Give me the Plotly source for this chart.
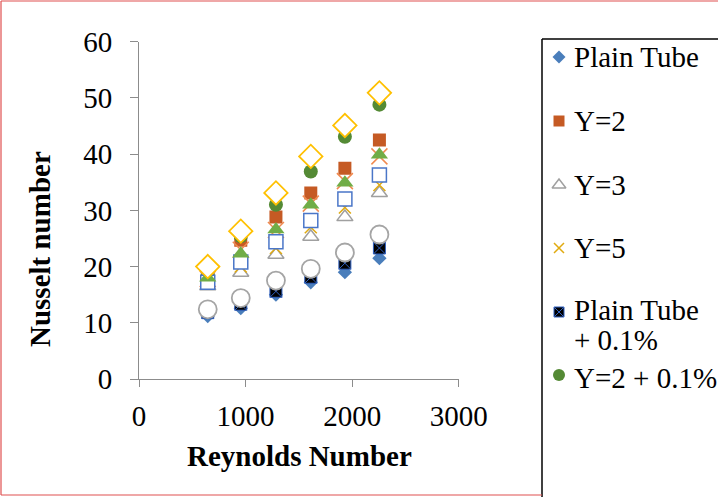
import plotly.graph_objects as go

# ---------------- data ----------------
reynolds = [645, 955, 1285, 1612, 1932, 2256]

plain_tube = [11.2, 12.6, 15.0, 17.2, 19.0, 21.5]
y2 = [18.2, 24.7, 28.8, 33.1, 37.5, 42.5]
y3 = [16.5, 18.9, 22.1, 25.3, 28.8, 33.1]
y5 = [17.0, 20.0, 23.3, 27.0, 30.5, 34.5]
plain_tube_01 = [11.8, 13.3, 15.6, 18.1, 20.6, 23.3]
y2_01 = [18.6, 25.4, 31.0, 36.9, 43.1, 48.8]
y5_01 = [17.8, 23.0, 26.5, 31.2, 35.2, 39.6]
y3_01 = [17.2, 20.8, 24.4, 28.2, 32.0, 36.3]
y2_01b = [18.0, 22.3, 26.6, 31.0, 34.9, 39.9]
plain_tube_02 = [12.4, 14.4, 17.5, 19.6, 22.5, 25.7]
y2_02 = [20.0, 26.3, 33.1, 39.6, 45.1, 50.9]

x_ticks = [0, 1000, 2000, 3000]
y_ticks = [0, 10, 20, 30, 40, 50, 60]

FONT = "Liberation Serif, Times New Roman, serif"
FS = 29
W, H = 718, 497

# series: name, values, symbol, fill, line color, line width, size, shown in legend
series = [
    ("Plain Tube", plain_tube, "diamond", "#4a7ebb", "#4a7ebb", 0, 11, True),
    ("Y=2", y2, "square", "#c55a24", "#c55a24", 0, 13, True),
    ("Y=3", y3, "triangle-up", "white", "#a0a0a0", 1.5, 14, True),
    ("Y=5", y5, "x-thin", "#e0aa10", "#e0aa10", 1.5, 12, True),
    ("Plain Tube + 0.1%", plain_tube_01, "square-x", "black", "#3060c0", 1, 12, True),
    ("Y=2 + 0.1%", y2_01, "circle", "#548a35", "#548a35", 0, 14, True),
    ("Y=5 + 0.1%", y5_01, "x-thin", "#f08a50", "#f08a50", 1.5, 16, False),
    ("Y=3 + 0.1%", y3_01, "square", "white", "#4a76c8", 1.5, 14, False),
    ("Y=2 + 0.1% (b)", y2_01b, "triangle-up", "#70ad47", "#70ad47", 0, 15, False),
    ("Plain Tube + 0.2%", plain_tube_02, "circle", "white", "#a5a5a5", 1.8, 18, False),
    ("Y=2 + 0.2%", y2_02, "diamond", "white", "#ffc000", 1.8, 18, False),
]

fig = go.Figure()
for name, vals, sym, fill, lc, lw, size, _ in series:
    fig.add_trace(go.Scatter(
        x=reynolds, y=vals, mode="markers", name=name, showlegend=False,
        marker=dict(symbol=sym, color=fill, size=size,
                    line=dict(color=lc, width=lw)),
        xaxis="x", yaxis="y",
    ))

# ---- manual legend (pixel coordinates on an invisible overlay axis) ----
legend_rows = [57, 121, 185, 248, 312, 375]
leg_items = [s for s in series if s[7]]
for (name, vals, sym, fill, lc, lw, size, _), ry in zip(leg_items, legend_rows):
    fig.add_trace(go.Scatter(
        x=[559], y=[ry], mode="markers", showlegend=False, hoverinfo="skip",
        marker=dict(symbol=sym, color=fill, size=max(10, size - 2),
                    line=dict(color=lc, width=lw)),
        xaxis="x2", yaxis="y2",
    ))

legend_texts = [("Plain Tube", 57), ("Y=2", 121), ("Y=3", 185), ("Y=5", 248),
                ("Plain Tube", 310), ("+ 0.1%", 340), ("Y=2 + 0.1%", 378)]
annotations = []
for t, ty in legend_texts:
    annotations.append(dict(text=t, x=572, y=ty, xref="x2", yref="y2",
                            xanchor="left", yanchor="middle", showarrow=False,
                            font=dict(family=FONT, size=FS, color="black")))

annotations.append(dict(text="<b>Reynolds Number</b>", x=299, y=456, xref="x2", yref="y2",
                        xanchor="center", yanchor="middle", showarrow=False,
                        font=dict(family=FONT, size=FS, color="black")))
annotations.append(dict(text="<b>Nusselt number</b>", x=40, y=249, xref="x2", yref="y2",
                        xanchor="center", yanchor="middle", showarrow=False, textangle=-90,
                        font=dict(family=FONT, size=FS, color="black")))

red = "#e05050"
shapes = [
    # legend frame (left + top; the rest is cropped in the reference)
    dict(type="line", xref="x2", yref="y2", x0=542, y0=39, x1=542, y1=497,
         line=dict(color="black", width=1.5)),
    dict(type="line", xref="x2", yref="y2", x0=542, y0=39, x1=718, y1=39,
         line=dict(color="black", width=1.5)),
    # outer red frame
    dict(type="line", xref="x2", yref="y2", x0=1, y0=1, x1=718, y1=1,
         line=dict(color=red, width=1.2)),
    dict(type="line", xref="x2", yref="y2", x0=1, y0=1, x1=1, y1=495,
         line=dict(color=red, width=1.2)),
    dict(type="line", xref="x2", yref="y2", x0=1, y0=495, x1=542, y1=495,
         line=dict(color=red, width=1.2)),
]

axis_col = "#8c8c8c"
fig.update_layout(
    template="none",
    width=W, height=H,
    margin=dict(l=0, r=0, t=0, b=0, pad=0, autoexpand=False),
    paper_bgcolor="white", plot_bgcolor="rgba(0,0,0,0)",
    font=dict(family=FONT, size=FS, color="black"),
    xaxis=dict(domain=[139 / W, 458.7 / W], range=[0, 3000], tickvals=x_ticks,
               showgrid=False, zeroline=False, showline=True, linecolor=axis_col,
               linewidth=1, ticks="outside", ticklen=7, tickcolor=axis_col,
               tickfont=dict(family=FONT, size=FS, color="black"),
               anchor="y", ticklabelstandoff=4, automargin=False),
    yaxis=dict(domain=[(H - 379) / H, (H - 41.7) / H], range=[0, 60], tickvals=y_ticks,
               showgrid=False, zeroline=False, showline=True, linecolor=axis_col,
               linewidth=1, ticks="outside", ticklen=8, tickcolor=axis_col,
               tickfont=dict(family=FONT, size=FS, color="black"),
               anchor="x", ticklabelstandoff=12, automargin=False),
    xaxis2=dict(domain=[0, 1], range=[0, W], visible=False, anchor="y2",
                fixedrange=True, automargin=False),
    yaxis2=dict(domain=[0, 1], range=[H, 0], visible=False, anchor="x2",
                fixedrange=True, automargin=False),
    annotations=annotations,
    shapes=shapes,
    showlegend=False,
)

fig.write_html("out.html", config={"displayModeBar": False})
